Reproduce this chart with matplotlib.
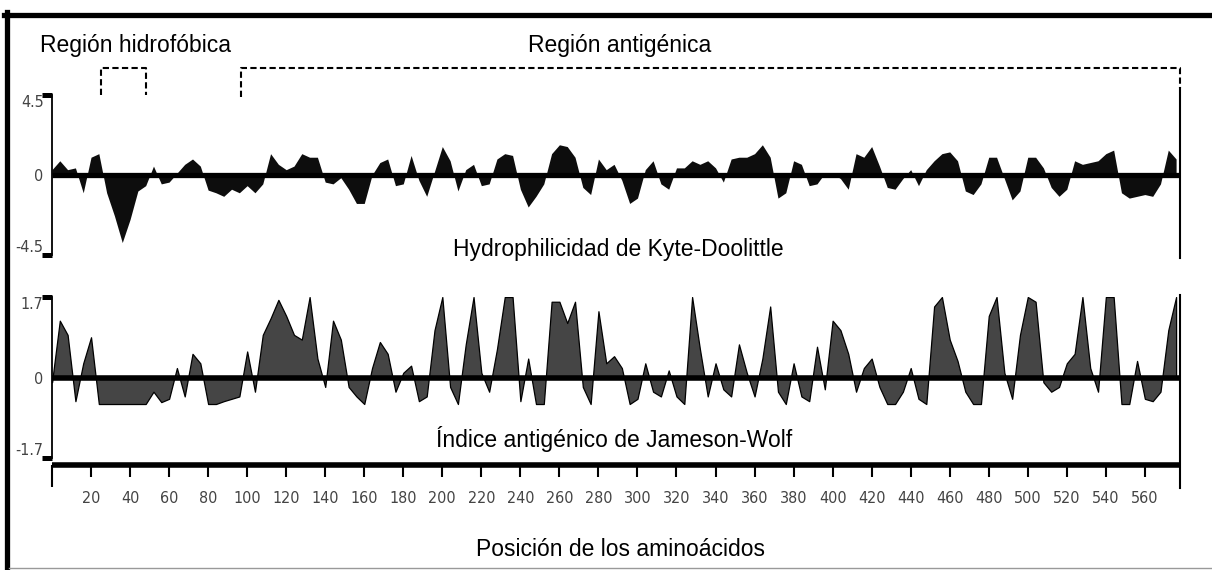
import numpy as np
import matplotlib
matplotlib.use("Agg")
import matplotlib.pyplot as plt
from matplotlib import font_manager
from matplotlib.lines import Line2D

# perfiles, un valor cada 4 aminoacidos (0, 4, 8, ... 576)
kyte_doolittle = [
    0.3, 0.8, 0.3, 0.4, -1.0, 1.0, 1.2, -1.0, -2.3, -3.8, -2.5, -0.9, -0.6,
    0.5, -0.5, -0.4, 0.1, 0.6, 0.9, 0.5, -0.85, -1.0, -1.2, -0.8, -1.0,
    -0.6, -1.0, -0.5, 1.2, 0.6, 0.3, 0.5, 1.2, 1.0, 1.0, -0.4, -0.5,
    -0.15, -0.8, -1.6, -1.6, 0.0, 0.7, 0.9, -0.6, -0.5, 1.1, -0.3, -1.2,
    0.2, 1.6, 0.8, -0.9, 0.3, 0.6, -0.6, -0.5, 0.9, 1.2, 1.1, -0.8,
    -1.8, -1.2, -0.5, 1.2, 1.7, 1.6, 1.0, -0.7, -1.1, 0.9, 0.3, 0.6,
    -0.3, -1.6, -1.3, 0.3, 0.8, -0.5, -0.8, 0.4, 0.4, 0.8, 0.6, 0.8,
    0.4, -0.4, 0.9, 1.0, 1.0, 1.2, 1.7, 1.0, -1.3, -1.0, 0.8, 0.6,
    -0.6, -0.5, 0.1, 0.1, -0.2, -0.8, 1.2, 1.0, 1.6, 0.5, -0.7, -0.8,
    -0.2, 0.3, -0.6, 0.3, 0.8, 1.2, 1.3, 0.8, -0.9, -1.1, -0.5, 1.0,
    1.0, -0.2, -1.4, -0.9, 1.0, 1.0, 0.4, -0.7, -1.2, -0.8, 0.8, 0.6,
    0.7, 0.8, 1.2, 1.4, -1.0, -1.3, -1.2, -1.1, -1.2, -0.5, 1.4, 0.9,
]
jameson_wolf = [
    -0.1, 1.2, 0.9, -0.5, 0.3, 0.85, -0.56, -0.56, -0.56, -0.56, -0.56, -0.56, -0.56,
    -0.3, -0.52, -0.45, 0.2, -0.4, 0.5, 0.3, -0.56, -0.56, -0.5, -0.45, -0.4,
    0.55, -0.3, 0.9, 1.25, 1.64, 1.3, 0.9, 0.8, 1.7, 0.4, -0.2, 1.2,
    0.8, -0.2, -0.4, -0.56, 0.2, 0.75, 0.5, -0.3, 0.1, 0.25, -0.5, -0.4,
    1.0, 1.7, -0.2, -0.56, 0.7, 1.7, 0.1, -0.3, 0.6, 1.7, 1.7, -0.5,
    0.4, -0.56, -0.56, 1.6, 1.6, 1.15, 1.6, -0.2, -0.56, 1.4, 0.3, 0.45,
    0.2, -0.56, -0.45, 0.3, -0.3, -0.4, 0.15, -0.4, -0.56, 1.7, 0.6, -0.4,
    0.3, -0.25, -0.4, 0.7, 0.1, -0.4, 0.4, 1.5, -0.3, -0.56, 0.3, -0.4,
    -0.5, 0.65, -0.25, 1.2, 1.0, 0.5, -0.3, 0.2, 0.4, -0.2, -0.56, -0.56,
    -0.3, 0.2, -0.45, -0.56, 1.5, 1.7, 0.8, 0.35, -0.3, -0.56, -0.56, 1.3,
    1.7, 0.1, -0.45, 0.9, 1.7, 1.6, -0.1, -0.3, -0.2, 0.3, 0.5, 1.7,
    0.2, -0.3, 1.7, 1.7, -0.56, -0.56, 0.35, -0.45, -0.5, -0.3, 1.0, 1.7,
]
paso = 4
longitud = 578
region_hidrofobica = [25, 48]
region_antigenica = [97, 578]
ticks_x = list(range(20, 561, 20))

pos = np.arange(len(kyte_doolittle)) * paso

W, H = 1212, 570
fig = plt.figure(figsize=(W / 100, H / 100), dpi=100)

# fuente estrecha para los numeros de los ejes, si la hay
fuentes = font_manager.fontManager.ttflist
names = {f.name for f in fuentes}
if "Liberation Sans Narrow" in names:
    tick_font = dict(family="Liberation Sans Narrow", size=13, color="#444444")
elif any(f.name == "DejaVu Sans" and f.stretch == "condensed" for f in fuentes):
    tick_font = dict(family="DejaVu Sans", stretch="condensed", size=11.5, color="#444444")
else:
    tick_font = dict(family="Liberation Sans", size=10.5, color="#444444")
txt_font = dict(family="Liberation Sans", size=16.5, color="black")


def px(x0, y0, x1, y1):
    # rectangulo en pixeles (arriba-izquierda) -> fracciones de figura
    return [x0 / W, 1 - y1 / H, (x1 - x0) / W, (y1 - y0) / H]


ax1 = fig.add_axes(px(52, 95, 1180, 255))
ax2 = fig.add_axes(px(52, 297, 1180, 458))

# --- Kyte-Doolittle
ax1.fill_between(pos, kyte_doolittle, 0, color="#0d0d0d", lw=0)
ax1.axhline(0, color="black", lw=3.8, solid_capstyle="butt")
ax1.set_xlim(0, longitud)
ax1.set_ylim(-4.5, 4.5)

# --- Jameson-Wolf
ax2.fill_between(pos, jameson_wolf, 0, facecolor="#454545", edgecolor="black", lw=0.9)
ax2.axhline(0, color="black", lw=4, solid_capstyle="butt")
ax2.set_xlim(0, longitud)
ax2.set_ylim(-1.7, 1.7)

for ax, lim in ((ax1, 4.5), (ax2, 1.7)):
    for s in ("top", "right"):
        ax.spines[s].set_visible(False)
    ax.spines["left"].set_linewidth(1.3)
    ax.set_yticks([-lim, 0, lim])
    ax.set_yticklabels(["-" + str(lim), "0", str(lim)], **tick_font)
    ax.tick_params(axis="y", length=0, pad=6)
    ax.get_yticklabels()[0].set_va("bottom")
    ax.get_yticklabels()[2].set_va("top")
    # remates del eje vertical
    for yy in (-lim, lim):
        ax.plot([-5.2, 0], [yy, yy], color="black", lw=3.6, clip_on=False,
                solid_capstyle="butt")

ax1.spines["bottom"].set_visible(False)
ax1.set_xticks([])

# eje de posiciones
ax2.spines["bottom"].set_position(("outward", 5))
ax2.spines["bottom"].set_linewidth(4)
ax2.spines["bottom"].set_capstyle("butt")
ax2.set_xticks(ticks_x)
ax2.set_xticklabels([str(t) for t in ticks_x], **tick_font)
ax2.set_xticks([0], minor=True)
ax2.tick_params(axis="x", which="major", length=8.5, width=1.5, pad=10, direction="out")
ax2.tick_params(axis="x", which="minor", length=16, width=1.5, direction="out")

# lineas verticales del extremo derecho
ax1.plot([longitud, longitud], [4.89, -4.67], color="black", lw=1.5, clip_on=False)
ax2.plot([longitud, longitud], [1.74, -2.34], color="black", lw=1.5, clip_on=False)

# corchetes de las regiones
a, b = region_hidrofobica
ax1.plot([a, a, b, b], [4.5, 6.02, 6.02, 4.5], color="black", lw=1.5,
         dashes=(3, 1.6), clip_on=False)
a, b = region_antigenica
ax1.plot([a, a, b, b], [4.39, 6.02, 6.02, 4.89], color="black", lw=1.5,
         dashes=(3, 1.6), clip_on=False)

# textos
fig.text(40 / W, 1 - 52 / H, "Región hidrofóbica", ha="left", va="baseline", **txt_font)
fig.text(620 / W, 1 - 52 / H, "Región antigénica", ha="center", va="baseline", **txt_font)
fig.text(618 / W, 1 - 256 / H, "Hydrophilicidad de Kyte-Doolittle", ha="center",
         va="baseline", **txt_font)
fig.text(614 / W, 1 - 447 / H, "Índice antigénico de Jameson-Wolf", ha="center",
         va="baseline", **txt_font)
fig.text(620 / W, 1 - 556 / H, "Posición de los aminoácidos", ha="center",
         va="baseline", **txt_font)

# marco
fig.add_artist(Line2D([4 / W, 1], [1 - 14.5 / H] * 2, color="black", lw=3.8))
fig.add_artist(Line2D([6.5 / W] * 2, [0, 1 - 12 / H], color="black", lw=3.8))
fig.add_artist(Line2D([9 / W, 1], [2 / H] * 2, color="#999999", lw=1))

fig.savefig("out.png", dpi=100)
